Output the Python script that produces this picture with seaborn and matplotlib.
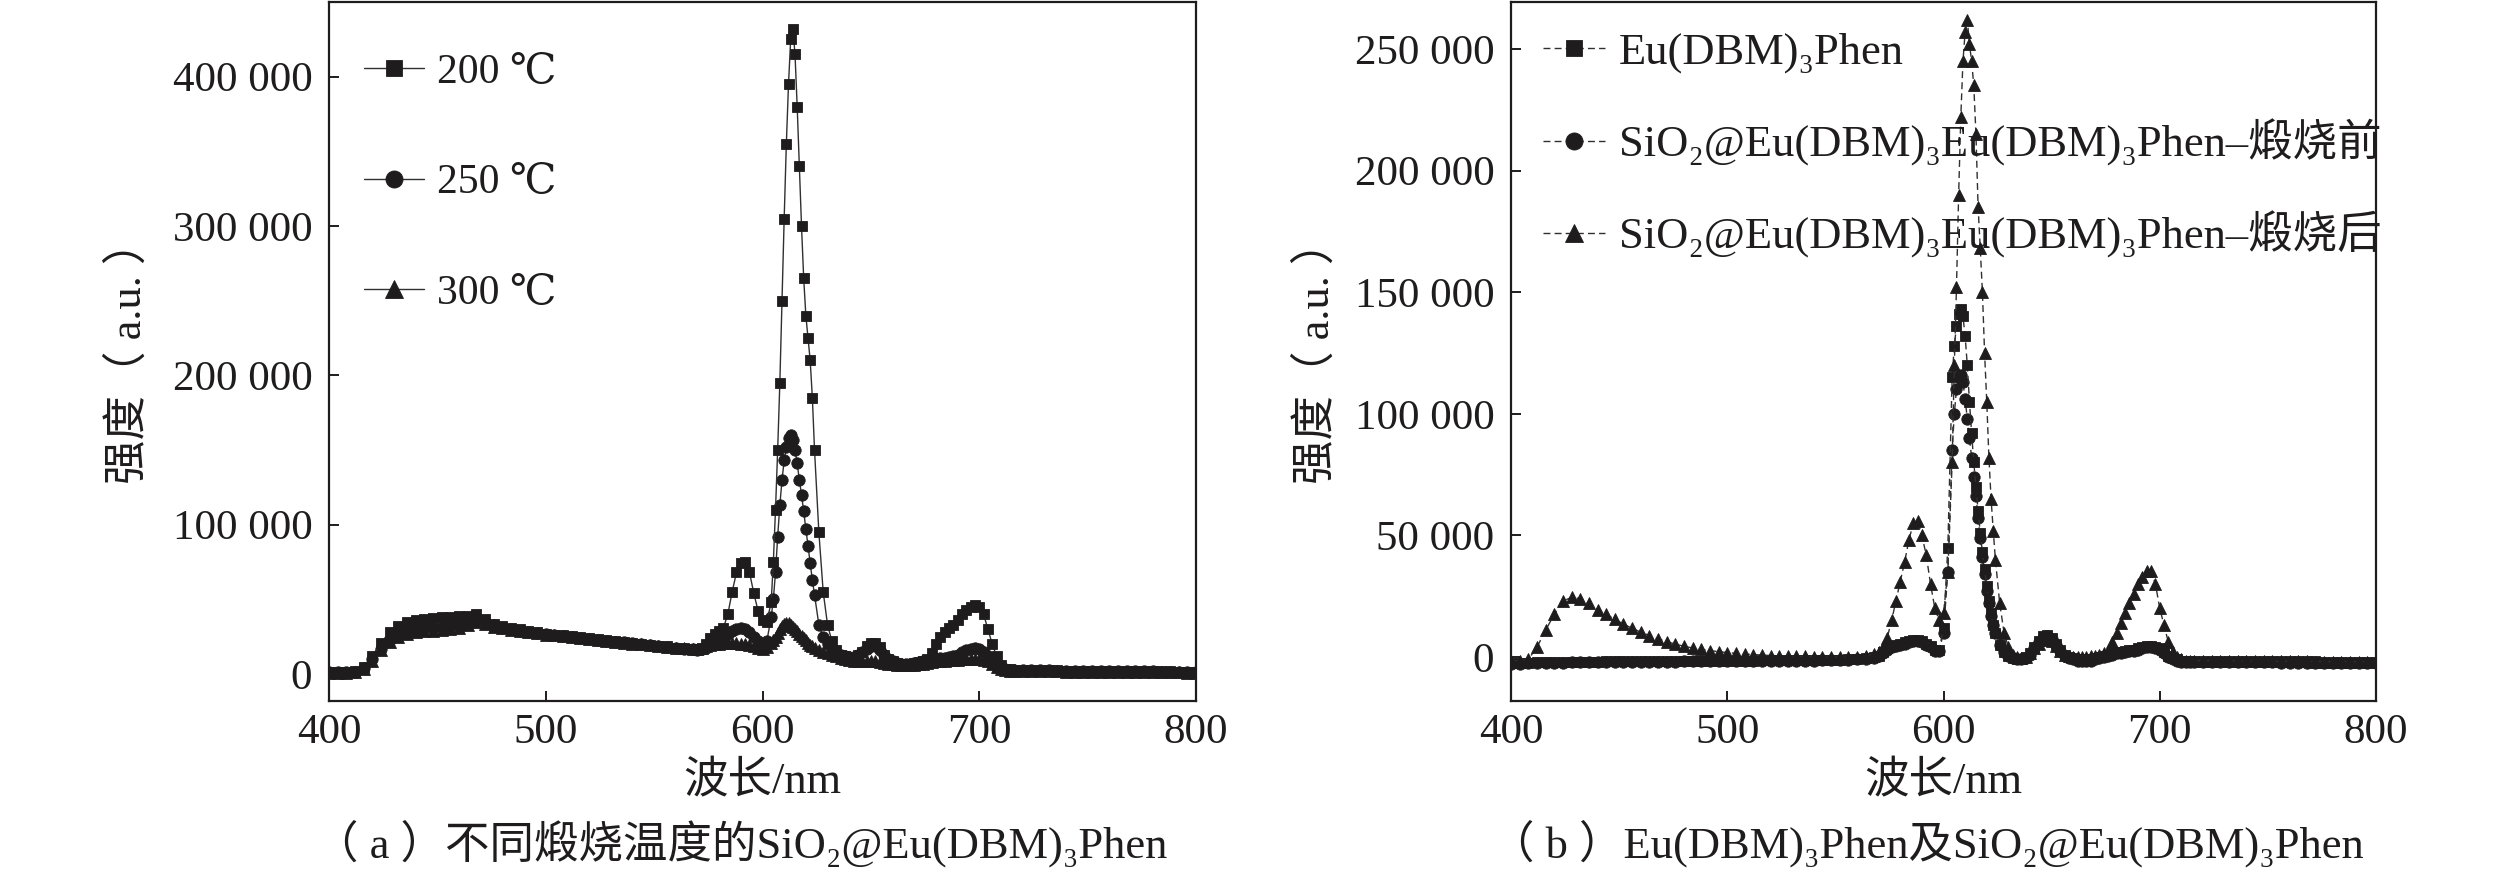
import numpy as np
import matplotlib
matplotlib.use("Agg")
import matplotlib.pyplot as plt
import seaborn as sns
from matplotlib.ticker import FuncFormatter

# ---------------- data (intensity values in units of 1 000 a.u.) ----------------
wavelength = [*range(400, 570, 4), *range(570, 604, 2), *range(604, 625),
              *range(626, 718, 2), *range(720, 801, 4)]

a_labels = ["200 ℃", "250 ℃", "300 ℃"]
a_200 = [1.5, 1.5, 1.5, 2, 5, 12, 21, 28, 32, 34.5, 36, 37, 37.5, 38, 38, 38.5, 39, 40, 37, 33.5, 32, 31, 30, 29, 28,
         27, 26.4, 25.8, 25.1, 24.5, 23.9, 23.3, 22.7, 22.1, 21.4, 20.8, 20.2, 19.6, 19.0, 18.4, 17.7, 17.1, 16.6,
         16.5, 17.5, 20, 24, 27, 28.5, 31, 40, 55, 68, 74, 75, 68, 54, 42, 36, 35,
         48, 75, 110, 150, 195, 250, 305, 355, 395, 425, 432, 415, 380, 340, 300, 265, 240, 225, 210, 185, 150,
         95, 55, 33, 22, 16, 13, 12, 11.5, 11.5, 12.5, 15, 19, 21, 21, 18, 13, 10, 8.5, 7.5, 7,
         7, 7, 7.5, 8, 8.5, 10, 14, 20, 25, 28, 30.5, 32.5, 36, 40, 43, 45, 46, 45, 40, 30,
         20, 12, 6, 3.5, 3, 2.8,
         2.7, 2.6, 2.5, 2.5, 2.4, 2.3, 2.3, 2.2, 2.1, 2.1, 2.0, 2.0, 1.9, 1.9, 1.8, 1.8, 1.7, 1.7, 1.6, 1.6, 1.5]
a_250 = [1, 1, 1, 1.5, 4, 10, 17, 23, 26.5, 28.5, 29.5, 30.5, 31, 31.5, 32, 33, 35, 38, 35.5, 32.5, 31, 30, 29, 28.2, 27.5,
         26.5, 25.9, 25.3, 24.7, 24.1, 23.5, 22.9, 22.3, 21.7, 21.1, 20.5, 19.9, 19.3, 18.7, 18.1, 17.5, 17.0, 16.5,
         16.3, 16.5, 17.5, 19.5, 22, 24, 25.5, 27, 28.5, 30, 30.5, 30, 28, 25, 22, 20, 22,
         38, 50, 68, 92, 113, 130, 143, 152, 158, 160, 157, 150, 141, 130, 120, 109, 97, 86, 74, 63, 53,
         33, 25, 20, 17, 14.5, 13, 12, 11.5, 11.5, 12.5, 14.5, 17, 18.5, 18.5, 16, 12.5, 10, 8.5, 7.5, 7,
         7, 7, 7.5, 8, 8.5, 9, 9.5, 10, 10.5, 11, 11.5, 12, 13, 14.5, 16, 17, 17.5, 17, 15, 12,
         9, 6, 4, 3, 2.8, 2.7,
         2.6, 2.5, 2.4, 2.4, 2.3, 2.2, 2.2, 2.1, 2.0, 2.0, 1.9, 1.9, 1.8, 1.8, 1.7, 1.7, 1.6, 1.6, 1.5, 1.5, 1.4]
a_300 = [0.5, 0.5, 0.5, 1, 3, 9, 16, 21.5, 25, 27, 28, 28.5, 29, 29.5, 30, 31, 32.5, 35, 33.5, 31.5, 30.5, 29.5, 28.7, 28, 27.2,
         26.4, 25.8, 25.2, 24.6, 24.0, 23.4, 22.8, 22.2, 21.6, 21.0, 20.4, 19.8, 19.2, 18.7, 18.2, 17.7, 17.3, 16.9,
         16.8, 17.2, 18.5, 19.5, 20, 20.3, 20.5, 20.5, 20.5, 20.5, 20.3, 20, 19.5, 18.5, 17.5, 17, 18,
         21, 23, 25, 27.5, 30, 32, 33.5, 34, 34, 33, 31.5, 30, 28.5, 27, 25.5, 24, 22.5, 21, 19.5, 18.5, 17.5,
         16, 15, 14, 13, 12, 11, 10, 9.5, 9, 8.5, 8.5, 8.5, 8.5, 8.5, 8, 7.5, 7, 6.5, 6.2, 6,
         6, 6, 6.2, 6.5, 7, 7.5, 8, 8.5, 9, 9, 9.5, 9.5, 9.5, 10, 10, 10, 10, 10, 9.5, 8.5,
         7, 5, 3.5, 2.5, 2.2, 2,
         1.9, 1.8, 1.8, 1.7, 1.7, 1.6, 1.6, 1.5, 1.5, 1.4, 1.4, 1.3, 1.3, 1.2, 1.2, 1.1, 1.1, 1.0, 1.0, 0.9, 0.9]

b_labels = ["Eu(DBM)₃Phen",
            "SiO₂@Eu(DBM)₃Eu(DBM)₃Phen–煅烧前",
            "SiO₂@Eu(DBM)₃Eu(DBM)₃Phen–煅烧后"]
b_eu = [-2.5, -2.5, -2.3, -2.2, -2.1, -2, -2, -2, -1.9, -1.9, -1.9, -1.8, -1.8, -1.8, -1.8, -1.7, -1.7, -1.7, -1.7,
        -1.6, -1.6, -1.6, -1.6, -1.5, -1.5,
        -1.5, -1.5, -1.5, -1.5, -1.4, -1.4, -1.4, -1.4, -1.3, -1.3, -1.3, -1.2, -1.2, -1.2, -1.0, -0.8, -0.5, 0.0,
        0.5, 2, 3.5, 4.5, 5, 5.5, 6, 6.5, 7, 7, 6.5, 5.5, 4.5, 3, 3, 12, 45,
        115, 128, 136, 141, 143, 140, 132, 120, 105, 92, 80, 70, 60, 51, 43, 36, 29, 23, 18, 13, 10,
        5, 2, 0.5, -0.5, -1, -1, 0, 1.5, 4, 6.5, 8.5, 9, 8, 5.5, 3, 1, 0, -0.5, -1, -1,
        -1, -1, -0.5, 0, 0.5, 1, 1.5, 2, 2, 2.5, 3, 3, 3.5, 4, 4.5, 4.5, 4, 3.5, 2, 0.5,
        -0.5, -1, -1.5, -1.5, -1.5, -1.5,
        -1.5, -1.5, -1.6, -1.6, -1.6, -1.7, -1.7, -1.7, -1.7, -1.8, -1.8, -1.8, -1.8, -1.8, -1.9, -1.9, -1.9, -1.9,
        -2.0, -2.0, -2.0]
b_before = [-2.8, -2.8, -2.6, -2.5, -2.4, -2.3, -2.3, -2.2, -2.2, -2.1, -2.1, -2.1, -2.0, -2.0, -2.0, -2.0,
            -1.9, -1.9, -1.9, -1.9, -1.8, -1.8, -1.8, -1.8, -1.8,
            -1.7, -1.7, -1.7, -1.7, -1.6, -1.6, -1.6, -1.6, -1.5, -1.5, -1.5, -1.4, -1.4, -1.3, -1.2, -1.0, -0.7, -0.3,
            0.2, 1.5, 3, 4, 4.5, 5, 5.5, 6, 6.5, 6.5, 6, 5, 4, 2.5, 2.5, 10, 35,
            85, 100, 110, 115, 116, 113, 106, 98, 90, 82, 74, 66, 57, 49, 41, 34, 27, 22, 17, 13, 10,
            5, 2, 0.5, -0.5, -1, -1, -0.5, 1, 3.5, 6, 8, 8.5, 7.5, 5, 2.5, 0.5, -0.5, -1, -1.5, -1.5,
            -1.5, -1.5, -1, -0.5, 0, 0.5, 1, 1.5, 1.5, 2, 2.5, 2.5, 3, 3.5, 4, 4, 3.5, 3, 1.5, 0,
            -1, -1.5, -2, -2, -2, -2,
            -2.0, -2.0, -2.1, -2.1, -2.1, -2.2, -2.2, -2.2, -2.2, -2.3, -2.3, -2.3, -2.3, -2.4, -2.4, -2.4, -2.4,
            -2.5, -2.5, -2.5, -2.5]
b_after = [-1.5, -1.5, -1, 4, 11, 17.5, 23, 24.5, 24, 22, 19.5, 17.5, 15.5, 13.5, 11.8, 10.2, 8.8, 7.5, 6.3, 5.3,
           4.4, 3.7, 3.1, 2.6, 2.2,
           1.8, 1.5, 1.2, 1.0, 0.8, 0.6, 0.5, 0.4, 0.3, 0.2, 0.1, 0.0, 0.0, -0.1, -0.1, 0.0, 0.3, 1.2,
           2, 4, 8, 15, 23, 31, 39, 48, 55, 56, 50, 42, 30, 20, 15, 18, 35,
           80, 120, 152, 190, 222, 245, 257, 262, 252, 245, 235, 215, 185, 168, 150, 125, 105, 82, 65, 52, 40,
           22, 10, 4, 1, 0, -0.5, 0, 1.5, 3.5, 5.5, 7, 7.5, 6.5, 4.5, 2.5, 1, 0.5, 0, 0, 0,
           0, 0.5, 0.5, 1, 1.5, 2.5, 6, 10, 14, 18, 22, 26, 30, 33, 35.5, 35.5, 30, 20, 13, 6,
           2, 0, -1, -1.5, -1.5, -1.5,
           -1.5, -1.6, -1.6, -1.6, -1.7, -1.7, -1.7, -1.7, -1.8, -1.8, -1.8, -1.8, -1.8, -1.9, -1.9, -1.9, -1.9,
           -1.9, -2.0, -2.0, -2.0]

x_ticks = [400, 500, 600, 700, 800]
a_yticks = [0, 100000, 200000, 300000, 400000]
b_yticks = [0, 50000, 100000, 150000, 200000, 250000]
x_label = "波长/nm"
y_label = "强度（ a.u. ）"
caption_a = "（ a ）不同煅烧温度的SiO₂@Eu(DBM)₃Phen"
caption_b = "（ b ）Eu(DBM)₃Phen及SiO₂@Eu(DBM)₃Phen"

# ---------------- style ----------------
sns.set_theme(style="ticks")
plt.rcParams["font.family"] = ["Liberation Serif", "DejaVu Serif", "Noto Sans CJK SC"]
plt.rcParams["axes.unicode_minus"] = False
INK = "#1e1c1d"
LINE = "#303030"
FS = 31

fig = plt.figure(figsize=(25.19, 8.73), dpi=100)
axA = fig.add_axes([329 / 2519, 1 - 701 / 873, 867 / 2519, 699 / 873])
axB = fig.add_axes([1511 / 2519, 1 - 701 / 873, 865 / 2519, 699 / 873])

fmt = FuncFormatter(lambda v, p: f"{int(round(v)):,}".replace(",", " "))


def draw(ax, series, labels, markers, sizes, ls):
    for vals, lab, mk, ms in zip(series, labels, markers, sizes):
        sns.lineplot(x=wavelength, y=np.asarray(vals) * 1000, ax=ax, sort=False, estimator=None,
                     color=LINE, linewidth=1.0, linestyle=ls, marker=mk, markersize=ms,
                     markerfacecolor=INK, markeredgecolor=INK, markeredgewidth=0.6)


draw(axA, [a_300, a_250, a_200], a_labels[::-1], ["^", "o", "s"], [8.8, 8.2, 7.4], "-")
draw(axB, [b_before, b_eu, b_after], [b_labels[1], b_labels[0], b_labels[2]], ["o", "s", "^"], [8.2, 7.4, 8.8],
     (0, (5, 3)))

for ax, yt, ylim in [(axA, a_yticks, (-18100, 450000)), (axB, b_yticks, (-18100, 269300))]:
    ax.set_xlim(400, 800)
    ax.set_ylim(*ylim)
    ax.set_xticks(x_ticks)
    ax.set_yticks(yt)
    ax.yaxis.set_major_formatter(fmt)
    ax.tick_params(axis="both", direction="in", length=7, width=1.4, labelsize=FS, colors=INK)
    ax.tick_params(axis="x", pad=9)
    ax.tick_params(axis="y", pad=12)
    for s in ax.spines.values():
        s.set_linewidth(1.6)
        s.set_color(INK)
    ax.set_xlabel(x_label, fontsize=32, color=INK, va="center")
    ax.xaxis.set_label_coords(0.5, (701 - 782) / 699)
    ax.set_ylabel(y_label, fontsize=32, color=INK, va="center", ha="center")

axA.yaxis.set_label_coords((129 - 329) / 867, 0.5)
axB.yaxis.set_label_coords((1317 - 1511) / 865, 0.5)

# legends (order as in the reference)
hA = {l.get_marker(): l for l in axA.get_lines()}
axA.legend([hA["s"], hA["o"], hA["^"]], a_labels, loc="upper left", bbox_to_anchor=(0.040, 0.927),
           frameon=False, fontsize=30, handlelength=1.45, handletextpad=0.3, labelspacing=1.73,
           borderaxespad=0, borderpad=0, markerscale=1.5, labelcolor=INK)
hB = {l.get_marker(): l for l in axB.get_lines()}
axB.legend([hB["s"], hB["o"], hB["^"]], b_labels, loc="upper left", bbox_to_anchor=(0.037, 0.956),
           frameon=False, fontsize=32, handlelength=1.4, handletextpad=0.3, labelspacing=1.02,
           borderaxespad=0, borderpad=0, markerscale=1.5, labelcolor=INK)

fig.text(741 / 2519, 1 - 843 / 873, caption_a, ha="center", va="center", fontsize=32, color=INK)
fig.text(1927 / 2519, 1 - 843 / 873, caption_b, ha="center", va="center", fontsize=32, color=INK)

fig.savefig("out.png", dpi=100, facecolor="white")
